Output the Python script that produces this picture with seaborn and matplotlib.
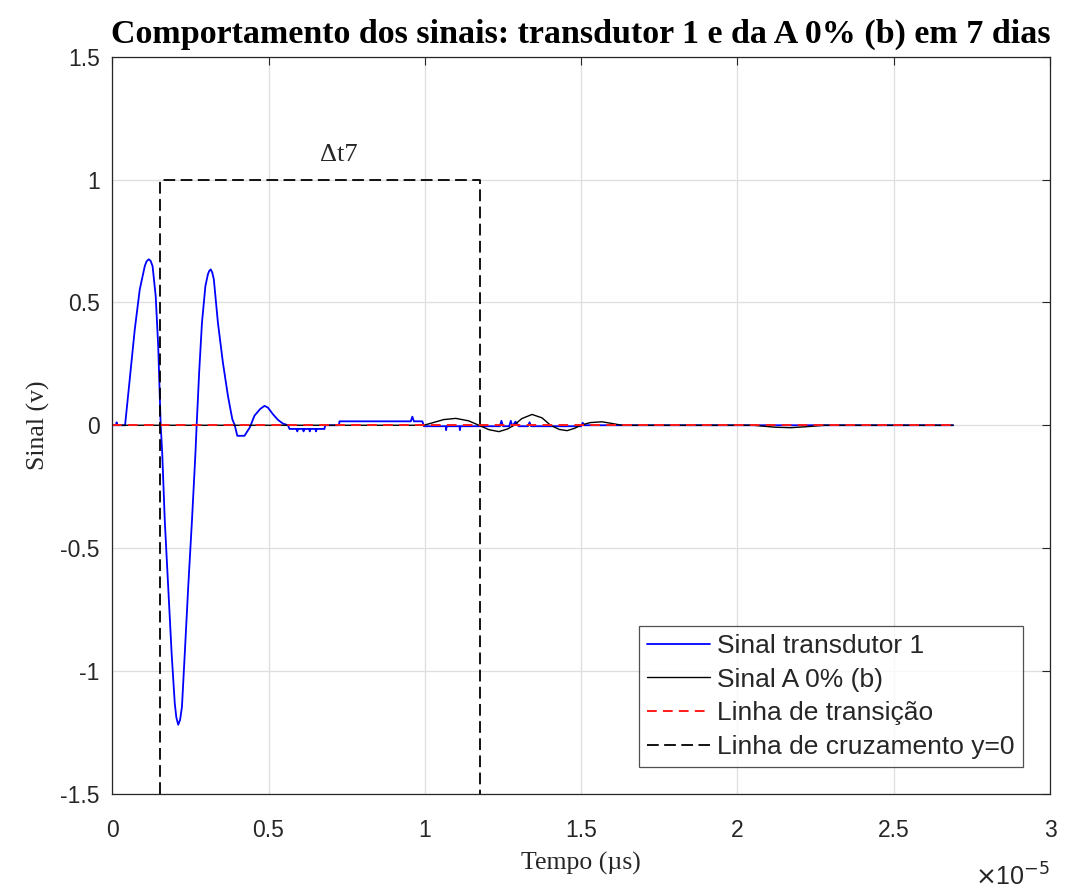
import matplotlib
matplotlib.use("Agg")
import matplotlib.pyplot as plt
import numpy as np
import pandas as pd
import seaborn as sns

# Time values are in units of 1e-5 s
t_transdutor = [0, 0.012, 0.014, 0.016, 0.041, 0.056, 0.072, 0.088, 0.104, 0.110, 0.117, 0.123,
                0.129, 0.139, 0.147, 0.152, 0.155, 0.160, 0.168, 0.179, 0.190, 0.200, 0.205,
                0.211, 0.217, 0.223, 0.232, 0.243, 0.255, 0.266, 0.270, 0.278, 0.287, 0.298,
                0.306, 0.310, 0.315, 0.320, 0.325, 0.338, 0.354, 0.370, 0.384, 0.392, 0.400,
                0.423, 0.440, 0.455, 0.473, 0.487, 0.498, 0.514, 0.530, 0.546, 0.562, 0.567,
                0.590, 0.592, 0.594, 0.610, 0.612, 0.614, 0.630, 0.632, 0.634, 0.650, 0.652,
                0.654, 0.679, 0.681, 0.725, 0.727, 0.955, 0.960, 0.965, 0.992, 0.997,
                1.067, 1.068, 1.070, 1.111, 1.112, 1.114, 1.240, 1.245, 1.250, 1.270,
                1.275, 1.280, 1.290, 1.300, 1.330, 1.335, 1.340, 1.500, 1.505, 1.510,
                2.690]
v_transdutor = [0, 0, 0.012, 0, 0, 0.188, 0.390, 0.553, 0.648, 0.668, 0.676, 0.669,
                0.648, 0.526, 0.323, 0.120, 0.0, -0.117, -0.388, -0.659, -0.930, -1.133, -1.190,
                -1.220, -1.200, -1.147, -0.930, -0.659, -0.388, -0.117, 0.0, 0.215, 0.418, 0.567,
                0.615, 0.628, 0.635, 0.622, 0.594, 0.418, 0.255, 0.120, 0.025, 0.0, -0.043,
                -0.043, -0.009, 0.039, 0.066, 0.079, 0.072, 0.045, 0.022, 0.007, 0.0, -0.015,
                -0.015, -0.025, -0.015, -0.015, -0.025, -0.015, -0.015, -0.025, -0.015, -0.015, -0.025,
                -0.015, -0.015, 0.0, 0.0, 0.016, 0.016, 0.035, 0.016, 0.016, -0.004,
                -0.004, -0.020, -0.004, -0.004, -0.020, -0.004, -0.004, 0.018, -0.004, -0.004,
                0.018, -0.004, 0.015, -0.004, -0.004, 0.012, -0.004, -0.004, 0.010, 0.0,
                0.0]

t_amostra = [0, 0.997, 1.030, 1.060, 1.099, 1.140, 1.173, 1.205, 1.237, 1.265, 1.285,
             1.310, 1.343, 1.375, 1.402, 1.430, 1.455, 1.480, 1.498, 1.530, 1.567,
             1.600, 1.630, 2.050, 2.120, 2.170, 2.220, 2.280, 2.690]
v_amostra = [0, 0, 0.012, 0.023, 0.028, 0.018, 0.0, -0.018, -0.026, -0.015, 0.0,
             0.027, 0.044, 0.030, 0.0, -0.017, -0.022, -0.012, 0.0, 0.011, 0.014,
             0.007, 0.0, 0.0, -0.008, -0.010, -0.006, 0.0, 0.0]

t_transicao = [0, 2.690]
v_transicao = [0, 0]

# Zero-crossing instants bounding the delay interval
t_cruzamento = [0.152, 0.152, 1.176, 1.176]
v_cruzamento = [-1.5, 1.0, 1.0, -1.5]

x_ticks = [0, 0.5, 1, 1.5, 2, 2.5, 3]
x_tick_labels = ["0", "0.5", "1", "1.5", "2", "2.5", "3"]
y_ticks = [-1.5, -1, -0.5, 0, 0.5, 1, 1.5]
y_tick_labels = ["-1.5", "-1", "-0.5", "0", "0.5", "1", "1.5"]

SCALE = 1e-5

sns.set_theme(style="white")
plt.rcParams["font.family"] = ["Liberation Sans", "DejaVu Sans"]
serif = ["Liberation Serif", "DejaVu Serif"]

fig = plt.figure(figsize=(10.67, 8.89), dpi=100)
ax = fig.add_axes([0.1052, 0.1074, 0.8789, 0.8285])

def frame(t, v):
    return pd.DataFrame({"t": np.asarray(t) * SCALE, "v": v})

sns.lineplot(data=frame(t_transdutor, v_transdutor), x="t", y="v", ax=ax,
             color="#0000ff", linewidth=1.3, sort=False, estimator=None,
             label="Sinal transdutor 1")
sns.lineplot(data=frame(t_amostra, v_amostra), x="t", y="v", ax=ax,
             color="black", linewidth=1.0, sort=False, estimator=None,
             label="Sinal A 0% (b)")
sns.lineplot(data=frame(t_transicao, v_transicao), x="t", y="v", ax=ax,
             color="#ff1a1a", linewidth=1.4, sort=False, estimator=None,
             label="Linha de transição")
ax.lines[-1].set_dashes((5.0, 3.2))
sns.lineplot(data=frame(t_cruzamento, v_cruzamento), x="t", y="v", ax=ax,
             color="black", linewidth=1.3, sort=False, estimator=None,
             label="Linha de cruzamento y=0")
ax.lines[-1].set_dashes((6.5, 3.0))

mid = (t_cruzamento[0] + t_cruzamento[2]) / 2
ax.text(mid * SCALE, 1.1, "Δt7", fontsize=19, family=serif,
        ha="left", va="center", color="#262626")

ax.set_xlim(0, 3 * SCALE)
ax.set_ylim(-1.5, 1.5)
ax.set_xticks([x * SCALE for x in x_ticks], x_tick_labels)
ax.set_yticks(y_ticks, y_tick_labels)
ax.tick_params(direction="in", length=6, width=0.8, top=True, right=True,
               labelsize=16.5, colors="#262626")
ax.tick_params(axis="x", pad=18)
ax.tick_params(axis="y", pad=9)
ax.grid(True, color="#dedede", linewidth=0.9)
for s in ax.spines.values():
    s.set_color("#262626")
    s.set_linewidth(0.9)

ax.set_title("Comportamento dos sinais: transdutor 1 e da A 0% (b) em 7 dias",
             fontsize=24.5, fontweight="bold", family=serif, pad=10, color="black")
ax.set_xlabel("Tempo (µs)", fontsize=18.5, family=serif, color="#262626")
ax.set_ylabel("Sinal (v)", fontsize=18.5, family=serif, color="#262626")
ax.xaxis.set_label_coords(0.5, -0.079)
ax.yaxis.set_label_coords(-0.066, 0.5)
ax.text(0.9997, -0.1256, r"$\times$10$^{\mathsf{-5}}$", transform=ax.transAxes,
        fontsize=18, ha="right", va="baseline", color="#262626")

leg = ax.legend(loc="lower right", bbox_to_anchor=(0.971, 0.036), fontsize=19,
                frameon=True, fancybox=False, shadow=False, handlelength=2.4,
                labelspacing=0.37, borderpad=0.3, handletextpad=0.27,
                borderaxespad=0.0)
leg.get_frame().set_edgecolor("#262626")
leg.get_frame().set_linewidth(0.9)
for txt in leg.get_texts():
    txt.set_color("#262626")

fig.savefig("out.png", dpi=100, facecolor="white")
